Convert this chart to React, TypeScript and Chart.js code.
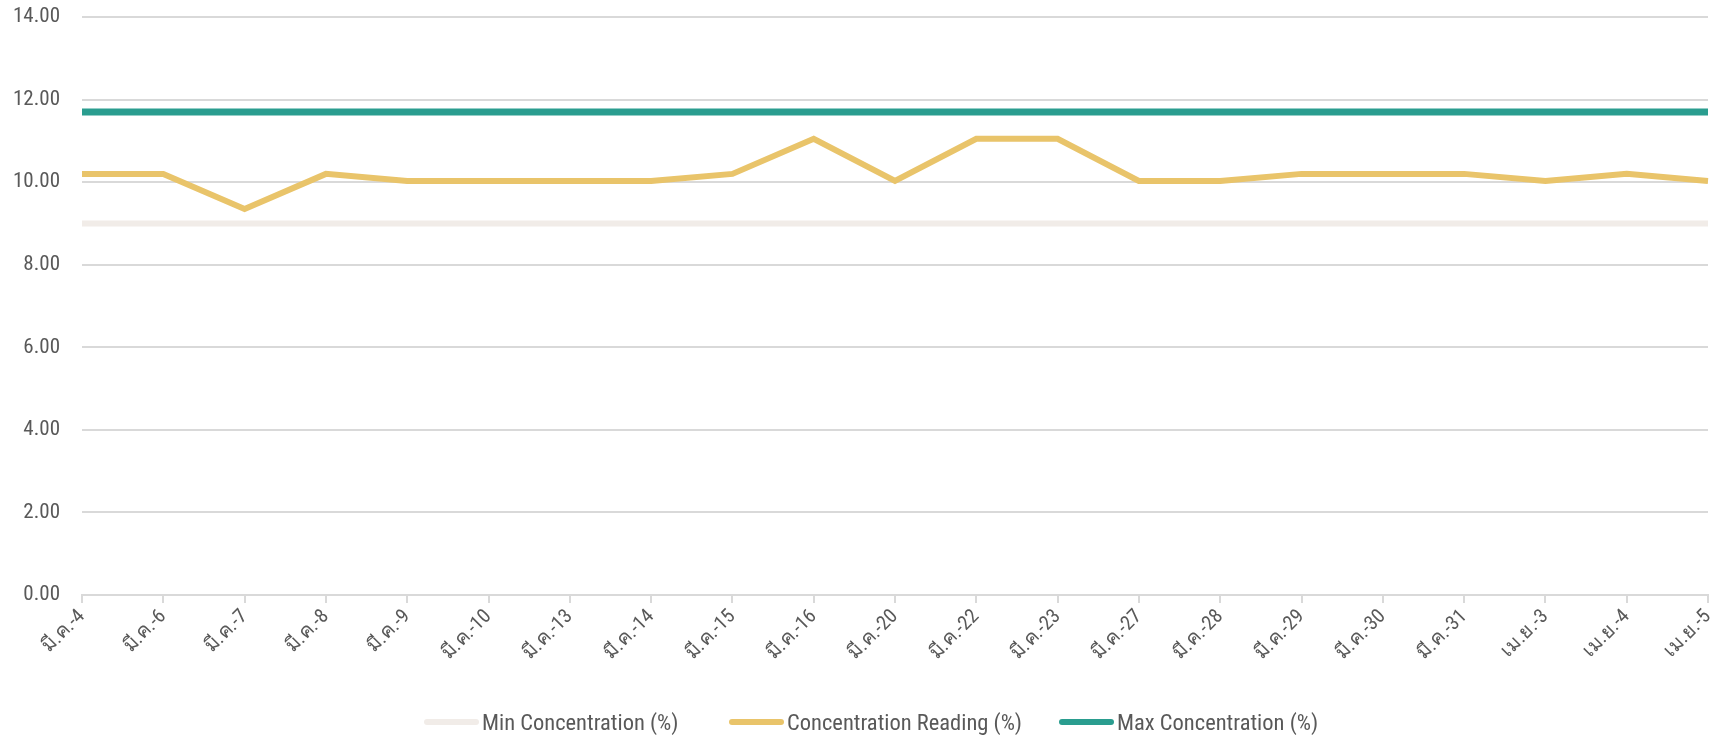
import React, { useEffect, useRef } from "react";
import { Chart, registerables } from "chart.js";

Chart.register(...registerables);

const categories = [
  "มี.ค.-4", "มี.ค.-6", "มี.ค.-7", "มี.ค.-8", "มี.ค.-9", "มี.ค.-10", "มี.ค.-13",
  "มี.ค.-14", "มี.ค.-15", "มี.ค.-16", "มี.ค.-20", "มี.ค.-22", "มี.ค.-23", "มี.ค.-27",
  "มี.ค.-28", "มี.ค.-29", "มี.ค.-30", "มี.ค.-31", "เม.ย.-3", "เม.ย.-4", "เม.ย.-5",
];

const readingValues = [
  10.2, 10.2, 9.35, 10.2, 10.03, 10.03, 10.03, 10.03, 10.2, 11.05, 10.03,
  11.05, 11.05, 10.03, 10.03, 10.2, 10.2, 10.2, 10.03, 10.2, 10.03,
];
const minValues = categories.map(() => 9.0);
const maxValues = categories.map(() => 11.7);

const seriesNames = ["Min Concentration (%)", "Concentration Reading (%)", "Max Concentration (%)"];
const seriesColors = ["#f1ece8", "#e9c46a", "#2a9d8f"];
const legendLefts = [424, 729, 1059];

const FONT = "'Roboto Condensed', 'Roboto', 'Noto Sans', sans-serif";
const TEXT = "#595959";

export default function App() {
  const ref = useRef<HTMLCanvasElement | null>(null);

  useEffect(() => {
    document.body.style.margin = "0";
    const ctx = ref.current!;
    const chart = new Chart(ctx, {
      type: "line",
      data: {
        labels: categories,
        datasets: [
          { label: seriesNames[0], data: minValues, borderColor: seriesColors[0], backgroundColor: seriesColors[0], borderWidth: 6, pointRadius: 0 },
          { label: seriesNames[1], data: readingValues, borderColor: seriesColors[1], backgroundColor: seriesColors[1], borderWidth: 6, pointRadius: 0 },
          { label: seriesNames[2], data: maxValues, borderColor: seriesColors[2], backgroundColor: seriesColors[2], borderWidth: 7, pointRadius: 0 },
        ],
      },
      options: {
        animation: false,
        responsive: false,
        maintainAspectRatio: false,
        layout: { autoPadding: false, padding: { top: 17, right: 6, left: 0, bottom: 64 } },
        plugins: {
          tooltip: { enabled: false },
          legend: { display: false },
        },
        scales: {
          x: {
            offset: false,
            afterFit: (s: any) => { s.height = 77; s.paddingLeft = 0; s.paddingRight = 0; },
            grid: { drawOnChartArea: false, drawTicks: true, tickLength: 8, color: "#d9d9d9", lineWidth: 2 },
            border: { color: "#d9d9d9", width: 2 },
            ticks: {
              autoSkip: false,
              maxRotation: 45,
              minRotation: 45,
              padding: 2,
              color: TEXT,
              font: { family: FONT, size: 20 },
            },
          },
          y: {
            min: 0,
            max: 14,
            afterFit: (s: any) => { s.width = 82; s.paddingTop = 0; s.paddingBottom = 0; },
            grid: { color: "#d9d9d9", lineWidth: 2, drawTicks: false },
            border: { display: false },
            ticks: {
              stepSize: 2,
              padding: 22,
              color: TEXT,
              font: { family: FONT, size: 21 },
              callback: (v: any) => Number(v).toFixed(2),
            },
          },
        },
      },
    });
    return () => chart.destroy();
  }, []);

  return (
    <div style={{ position: "absolute", left: 0, top: 0, width: 1714, height: 736 }}>
      <canvas ref={ref} width={1714} height={736} style={{ width: 1714, height: 736, display: "block" }} />
      {seriesNames.map((name, i) => (
        <div
          key={name}
          style={{
            position: "absolute",
            left: legendLefts[i],
            top: 707,
            height: 30,
            display: "flex",
            alignItems: "center",
            fontFamily: FONT,
            fontSize: 22.5,
            color: TEXT,
            whiteSpace: "nowrap",
          }}
        >
          <span style={{ display: "inline-block", width: 55, height: 6, borderRadius: 3, background: seriesColors[i], marginRight: 3 }} />
          <span>{name}</span>
        </div>
      ))}
    </div>
  );
}
